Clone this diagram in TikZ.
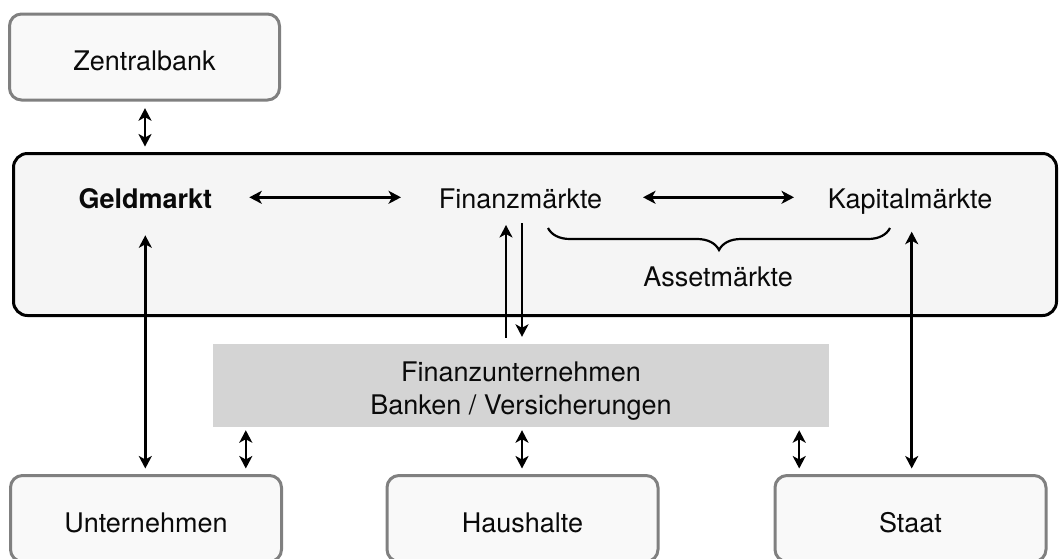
\documentclass[tikz,border=0pt]{standalone}
\usepackage{fontspec}
\setmainfont{TeX Gyre Heros}
\usetikzlibrary{arrows.meta,calc,decorations.pathreplacing}
\definecolor{boxline}{HTML}{808080}
\definecolor{boxfill}{HTML}{F9F9F9}
\definecolor{bigfill}{HTML}{F5F5F5}
\definecolor{grayfill}{HTML}{D4D4D4}
\definecolor{txt}{HTML}{0A0A0A}
\begin{document}
\begin{tikzpicture}[x=1pt,y=-1pt,
  every node/.style={text=txt, font=\fontsize{27}{32.3}\selectfont},
  sbox/.style={draw=boxline, line width=3pt, rounded corners=12pt, fill=boxfill, inner sep=0pt,
    minimum width=271pt, minimum height=86pt, text height=27pt, text depth=0pt},
  bigbox/.style={draw=black, line width=3pt, rounded corners=14pt, fill=bigfill, inner sep=0pt,
    minimum width=1043pt, minimum height=162pt},
  lbl/.style={inner sep=0pt, anchor=base},
  graybox/.style={fill=grayfill, inner sep=0pt, minimum width=616pt, minimum height=83pt,
    align=center, text height=57pt, text depth=0pt},
  >={Stealth[length=12.5pt,width=13pt,inset=3.5pt]},
  con/.style={line width=2.5pt},
]
\path[use as bounding box] (0,0) rectangle (1059,558);
\node[sbox, minimum width=270pt] (zb) at (144.5,57) {Zentralbank};
\node[bigbox] (fm) at (535,234.5) {};
\node[lbl, font=\fontsize{27}{32.3}\selectfont\bfseries] (gm) at (145.3,208.3) {Geldmarkt};
\node[lbl] (fz) at (520.5,208.3) {Finanzmärkte};
\node[lbl] (km) at (910,208.3) {Kapitalmärkte};
\draw[line width=2.2pt, decorate, decoration={brace, amplitude=22pt, mirror}] (548,228) -- (890,228);
\node[lbl] (am) at (718,286) {Assetmärkte};
\node[graybox] (fu) at (521,385.5) {Finanzunternehmen\\Banken / Versicherungen};
\node[sbox] (un) at (146,518.5) {Unternehmen};
\node[sbox] (hh) at (522.5,518.5) {Haushalte};
\node[sbox] (st) at (910.5,518.5) {Staat};
% connectors
\draw[con,<->] ($(zb.south)+(0.5,6.7)$) -- ($(zb.south |- fm.north)+(0.5,-5.5)$);
\draw[con,<->] ($(gm.base)+(104,-11)$) -- ($(fz.base)+(-119.5,-11)$);
\draw[con,<->] ($(fz.base)+(122.5,-11)$) -- ($(km.base)+(-116,-11)$);
\draw[con,<->] ($(gm.base)+(0,27)$) -- ($(gm.base |- un.north)+(0,-5.5)$);
\draw[con,<->] ($(km.base)+(1.7,23.4)$) -- ($(km.base |- st.north)+(1.7,-5.5)$);
\draw[con,->] ($(fu.north)+(-15,-6)$) -- ($(fz.base)+(-14.5,16.7)$);
\draw[con,->] ($(fz.base)+(1.5,14.7)$) -- ($(fu.north)+(1,-7)$);
\coordinate (a1) at ($(fu.south west)+(33,0)$);
\coordinate (a2) at ($(fu.south)+(1,0)$);
\coordinate (a3) at ($(fu.south east)+(-30,0)$);
\draw[con,<->,shorten <=3pt,shorten >=5.5pt] (a1) -- (a1 |- un.north);
\draw[con,<->,shorten <=3pt,shorten >=5.5pt] (a2) -- (a2 |- hh.north);
\draw[con,<->,shorten <=3pt,shorten >=5.5pt] (a3) -- (a3 |- st.north);
\end{tikzpicture}
\end{document}
